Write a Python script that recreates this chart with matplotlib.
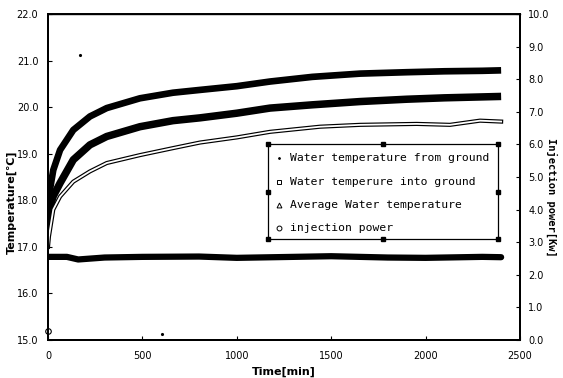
import numpy as np
import matplotlib
matplotlib.use("Agg")
import matplotlib.pyplot as plt
from matplotlib.patches import Rectangle

# Time axis [min] and temperatures [C]
t_into = [0, 5, 28, 64, 134, 222, 311, 487, 662, 805, 1000, 1176, 1400, 1653, 1900, 2100, 2300, 2400]
T_into = [17.5, 18.1, 18.65, 19.08, 19.51, 19.8, 19.98, 20.19, 20.31, 20.37, 20.45, 20.55, 20.65, 20.72,
          20.75, 20.77, 20.78, 20.79]

t_avg = [0, 10, 28, 64, 134, 222, 311, 487, 662, 805, 1000, 1176, 1400, 1653, 1900, 2100, 2400]
T_avg = [17.5, 17.86, 18.09, 18.37, 18.87, 19.19, 19.37, 19.58, 19.71, 19.77, 19.87, 19.98, 20.05, 20.12,
         20.17, 20.2, 20.23]

t_from = [0, 5, 28, 64, 134, 222, 311, 487, 662, 805, 1000, 1176, 1441, 1653, 1953, 2129, 2288, 2400]
T_from = [17.0, 17.22, 17.8, 18.08, 18.4, 18.62, 18.8, 18.97, 19.12, 19.24, 19.35, 19.47, 19.58, 19.62,
          19.64, 19.62, 19.71, 19.69]

# injection power [kW]
t_pow = [0, 100, 160, 300, 500, 800, 1000, 1200, 1500, 1800, 2000, 2300, 2400]
P_pow = [2.55, 2.55, 2.47, 2.53, 2.55, 2.56, 2.52, 2.54, 2.57, 2.53, 2.52, 2.55, 2.54]
pow0_t, pow0_P = [0], [0.29]

# stray points
stray_t = [170, 604]
stray_T = [21.12, 15.13]

W, H = 563, 378
fig = plt.figure(figsize=(W/100, H/100), dpi=100)
ax = fig.add_axes([48/W, 1-340/H, 472/W, 326/H])
ax2 = ax.twinx()

tickfont = ['Liberation Sans Narrow', 'DejaVu Sans']

ax.plot(t_into, T_into, color='black', lw=4.8, solid_capstyle='butt', zorder=3)
ax.plot(t_avg, T_avg, color='black', lw=5.4, solid_capstyle='butt', zorder=3)
ax.plot(t_from, T_from, color='black', lw=3.0, zorder=3)
ax.plot(t_from, T_from, color='white', lw=1.3, zorder=4)
ax.plot(stray_t, stray_T, 'k.', ms=2.5, zorder=3)

ax2.plot(t_pow, P_pow, color='black', lw=4.5, solid_capstyle='round')
ax2.plot(pow0_t, pow0_P, 'o', ms=4, mfc='white', mec='black', mew=0.8, clip_on=False)

ax.set_xlim(0, 2500)
ax.set_ylim(15, 22)
ax2.set_ylim(0, 10)
ax.set_xticks(np.arange(0, 2501, 500))
ax.set_yticks(np.arange(15, 22.1, 1))
ax2.set_yticks(np.arange(0, 10.1, 1))
ax.set_yticklabels([f"{v:.1f}" for v in np.arange(15, 22.1, 1)])
ax2.set_yticklabels([f"{v:.1f}" for v in np.arange(0, 10.1, 1)])

ax.tick_params(axis='y', direction='in', length=3, pad=7, labelsize=7)
ax.tick_params(axis='x', direction='in', length=3, pad=8, labelsize=7)
ax2.tick_params(axis='y', direction='in', length=3, pad=6, labelsize=7)
for lab in ax.get_xticklabels() + ax.get_yticklabels() + ax2.get_yticklabels():
    lab.set_family(tickfont)

for a in (ax, ax2):
    for s in a.spines.values():
        s.set_linewidth(1.4)
ax.spines['top'].set_linewidth(1.0)

ax.set_xlabel("Time[min]", fontsize=8, fontweight='bold', labelpad=4)
fig.text(12/W, 1-202/H, "Temperature[\u2103]", rotation=90, fontsize=8, fontweight='bold',
         ha='center', va='center')
fig.text(552/W, 1-197/H, "Injection power[Kw]", rotation=-90, fontsize=7.5, fontweight='bold',
         family='DejaVu Sans Mono', ha='center', va='center')

# legend box (drawn by hand, with selection handles)
x0, x1 = (268-48)/472, (498-48)/472
y0, y1 = (340-239)/326, (340-144)/326
ax.add_patch(Rectangle((x0, y0), x1-x0, y1-y0, transform=ax.transAxes, fill=True,
                       fc='white', ec='black', lw=0.9, zorder=6))
hx = [x0, (x0+x1)/2, x1, x0, x1, x0, (x0+x1)/2, x1]
hy = [y1, y1, y1, (y0+y1)/2, (y0+y1)/2, y0, y0, y0]
ax.plot(hx, hy, 's', color='black', ms=3, transform=ax.transAxes, zorder=7, clip_on=False)

labels = ["Water temperature from ground", "Water temperure into ground",
          "Average Water temperature", "injection power"]
markers = ['.', 's', '^', 'o']
rows_y = [158, 182, 205, 228]
for lab, mk, ry in zip(labels, markers, rows_y):
    yy = (340-ry)/326
    ax.plot([(279-48)/472], [yy], mk, ms=2.5 if mk == '.' else 3.5, mfc='white' if mk != '.' else 'black',
            mec='black', mew=0.7, transform=ax.transAxes, zorder=8)
    ax.text((290-48)/472, yy, lab, transform=ax.transAxes, fontsize=8.2, family='DejaVu Sans Mono',
            va='center', ha='left', zorder=8)

fig.savefig("out.png", dpi=100)
